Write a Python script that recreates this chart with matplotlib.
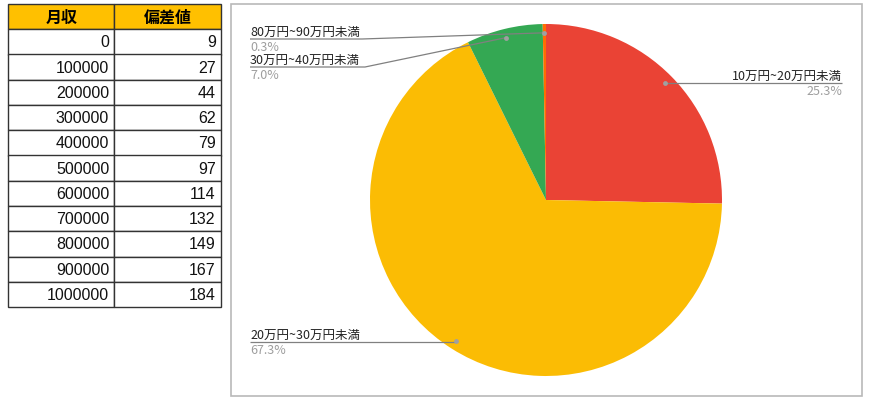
import matplotlib.pyplot as plt
from matplotlib.patches import Rectangle
import numpy as np

plt.rcParams['font.family'] = ['Noto Sans CJK JP', 'DejaVu Sans']

# 左の表
table_headers = ['月収', '偏差値']
monthly_income = [0, 100000, 200000, 300000, 400000, 500000,
                  600000, 700000, 800000, 900000, 1000000]
deviation = [9, 27, 44, 62, 79, 97, 114, 132, 149, 167, 184]

# 円グラフ
pie_labels = ['10万円~20万円未満', '20万円~30万円未満', '30万円~40万円未満', '80万円~90万円未満']
pie_shares = [25.3, 67.3, 7.0, 0.3]
pie_colors = ['#EA4335', '#FBBC04', '#34A853', '#FF6D01']

W, H = 870, 410
fig = plt.figure(figsize=(W / 100, H / 100), dpi=100)

# 背景 (ピクセル座標)
bg = fig.add_axes([0, 0, 1, 1])
bg.set_xlim(0, W)
bg.set_ylim(H, 0)
bg.axis('off')

# グラフの枠
bg.add_patch(Rectangle((231, 5), 631, 392, fill=False, edgecolor='#b9b9b9', lw=1.2))

# 表
rows = [[str(a), str(b)] for a, b in zip(monthly_income, deviation)]
tbl = bg.table(cellText=rows, colLabels=table_headers, cellLoc='right', colLoc='center',
               bbox=[8 / W, 1 - 308 / H, 213 / W, 303 / H])
tbl.auto_set_font_size(False)
tbl.set_fontsize(11.5)
for (r, c), cell in tbl.get_celld().items():
    cell.set_edgecolor('#333333')
    cell.set_linewidth(1.0)
    cell.PAD = 0.05
    if r == 0:
        cell.set_facecolor('#FFC000')
        cell.get_text().set_fontweight('bold')
        cell.get_text().set_fontfamily(['Noto Sans CJK JP', 'DejaVu Sans'])
    else:
        cell.get_text().set_fontfamily(['Liberation Sans', 'DejaVu Sans'])
        cell.get_text().set_color('#111111')

# 円
pax = fig.add_axes([370 / W, (H - 377) / H, 352 / W, 352 / H])
wedges, _ = pax.pie(pie_shares, colors=pie_colors, startangle=90, counterclock=False,
                    wedgeprops=dict(linewidth=0))
pax.set_xlim(-1, 1)
pax.set_ylim(-1, 1)

# ラベル用の上のレイヤー
ov = fig.add_axes([0, 0, 1, 1])
ov.set_xlim(0, W)
ov.set_ylim(H, 0)
ov.axis('off')
ov.patch.set_alpha(0)

# ラベル配置: (テキストx, 線のy, 折れ点x, 揃え)
layout = {
    '10万円~20万円未満': (842, 84, None, 'right'),
    '20万円~30万円未満': (250, 343, None, 'left'),
    '30万円~40万円未満': (250, 68, 365, 'left'),
    '80万円~90万円未満': (250, 40, 362, 'left'),
}

for w, lab, share in zip(wedges, pie_labels, pie_shares):
    mid = np.deg2rad((w.theta1 + w.theta2) / 2)
    dx, dy = pax.transData.transform((0.95 * np.cos(mid), 0.95 * np.sin(mid)))
    dy = H - dy
    tx, ly, ex, ha = layout[lab]
    if ex is None:
        ex = dx
    ov.plot([tx, ex, dx], [ly, ly, dy], color='#808080', lw=0.9, solid_capstyle='butt')
    ov.plot(dx, dy, 'o', ms=3.5, color='#a0a0a0', mec='none')
    ov.text(tx, ly - 1.5, lab, ha=ha, va='bottom', fontsize=9, color='#222222')
    ov.text(tx, ly + 1.0, f'{share:.1f}%', ha=ha, va='top', fontsize=9, color='#9e9e9e')

fig.savefig('out.png', dpi=100)
